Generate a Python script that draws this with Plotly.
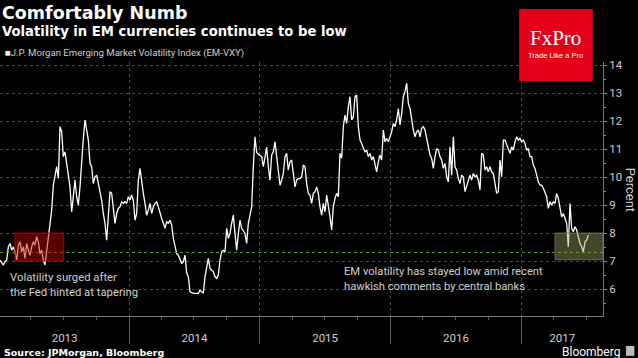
import pandas as pd
import plotly.graph_objects as go

# ---------------- data ----------------
title = "Comfortably Numb"
subtitle = "Volatility in EM currencies continues to be low"
series_name = "J.P. Morgan Emerging Market Volatility Index (EM-VXY)"
source_text = "Source: JPMorgan, Bloomberg"
y_title = "Percent"

start_date = "2013-01-05"
end_date = "2017-07-07"
axis_start = "2013-01-05"
axis_end = "2017-08-17"

# EM-VXY readings, roughly every 4-5 days, in four consecutive stretches
em_vxy_part1 = [
    7.04, 6.95, 6.86, 6.98, 7.04, 7.51, 7.63, 7.39, 7.51, 7.33,
    7.04, 7.57, 7.69, 7.33, 7.51, 7.10, 7.63, 7.39, 7.21, 7.51,
    7.69, 7.57, 7.87, 7.69, 7.27, 7.39, 7.04, 6.86, 7.39, 7.87,
    8.35, 8.82, 9.71, 10.01, 10.37, 9.95, 11.80, 11.62, 10.73, 10.90,
    10.49, 10.13, 9.65, 8.76, 9.48, 9.89, 9.30, 9.00, 9.65, 10.73,
    11.38, 12.04, 11.74, 11.32, 10.49, 10.37, 9.77, 10.01, 10.07, 9.77,
    9.42, 9.18, 8.70, 8.35, 7.75, 8.58, 9.48, 9.42, 8.82, 8.35,
    8.70, 8.88, 8.94, 9.12, 9.06, 9.12, 9.06, 9.30, 9.18, 9.36,
    9.18, 8.46, 8.70, 9.89, 10.31, 9.77, 9.42, 9.06, 8.64, 8.82,
]
em_vxy_part2 = [
    9.06, 8.70, 8.94, 9.06, 9.12, 8.94, 8.70, 8.52, 8.35, 8.17,
    8.40, 8.35, 8.46, 8.29, 7.81, 7.51, 7.27, 7.21, 7.04, 6.92,
    6.98, 7.21, 6.58, 6.44, 5.90, 5.87, 5.85, 5.85, 5.85, 5.85,
    5.96, 5.90, 5.85, 6.44, 6.80, 7.10, 6.74, 6.68, 6.62, 6.44,
    6.38, 6.50, 7.04, 7.33, 7.39, 7.33, 8.17, 7.81, 7.99, 8.35,
    8.64, 7.99, 7.39, 7.99, 8.46, 8.17, 8.05, 7.99, 7.63, 8.35,
    8.64, 8.94, 10.37, 11.44, 10.87, 10.82, 10.79, 10.73, 10.37, 10.73,
    11.06, 10.37, 9.89, 10.79, 10.90, 11.26, 10.79, 10.37, 9.71, 9.89,
    10.13, 10.73, 10.85, 10.25, 10.55, 10.61, 10.19, 9.65, 9.89, 9.95,
]
em_vxy_part3 = [
    9.95, 10.01, 10.43, 10.37, 9.77, 9.42, 9.36, 9.06, 9.42, 9.48,
    9.65, 9.42, 8.94, 8.64, 9.06, 8.76, 9.36, 9.00, 8.58, 8.11,
    8.94, 9.24, 9.42, 9.30, 10.85, 10.67, 11.80, 12.21, 11.92, 12.51,
    12.87, 12.04, 12.15, 12.87, 12.93, 11.80, 11.32, 11.20, 11.08, 10.90,
    10.96, 10.73, 10.85, 10.61, 10.73, 10.49, 10.19, 10.55, 10.79, 10.61,
    11.68, 11.26, 11.38, 11.26, 11.44, 11.62, 11.92, 11.80, 12.04, 12.45,
    11.86, 12.27, 12.87, 13.05, 13.35, 12.63, 12.45, 12.04, 11.68, 11.44,
    11.62, 11.68, 11.44, 11.74, 11.80, 11.68, 11.38, 11.08, 10.79, 10.67,
    10.31, 10.73, 11.02, 10.96, 10.73, 10.61, 10.31, 10.49, 10.01, 9.83,
]
em_vxy_part4 = [
    11.08, 10.07, 11.44, 10.37, 10.25, 9.95, 9.77, 10.07, 10.01, 9.48,
    9.65, 9.89, 10.07, 9.89, 10.13, 10.01, 10.07, 9.89, 9.54, 10.85,
    10.79, 10.25, 10.37, 10.19, 10.37, 10.19, 10.13, 9.77, 9.42, 9.48,
    10.61, 10.01, 11.32, 11.32, 11.14, 11.02, 10.85, 11.08, 10.96, 11.26,
    11.44, 11.32, 11.38, 11.26, 11.32, 11.20, 10.96, 11.02, 10.73, 10.73,
    10.43, 10.31, 10.07, 9.83, 9.71, 9.71, 9.60, 9.48, 9.30, 8.88,
    9.12, 9.00, 9.12, 9.06, 9.42, 9.24, 8.82, 8.58, 8.70, 8.52,
    8.35, 7.51, 9.06, 8.17, 8.05, 8.23, 8.11, 7.87, 7.63, 7.51,
    7.33, 7.69, 7.75, 7.93,
]

year_labels = ["2013", "2014", "2015", "2016", "2017"]
y_ticks = [6, 7, 8, 9, 10, 11, 12, 13, 14]
y_range = [5.04, 14.11]

reference_level = 7.31  # green dotted line

taper_box = {"x0": "2013-02-16", "x1": "2013-07-02", "y0": 7.0, "y1": 8.0}
recent_box = {"x0": "2017-04-05", "x1": axis_end, "y0": 7.05, "y1": 8.0}

note_taper = "Volatility surged after<br>the Fed hinted at tapering"
note_taper_pos = ("2013-01-28", 6.72)
note_recent = "EM volatility has stayed low amid recent<br>hawkish comments by central banks"
note_recent_pos = ("2015-08-20", 6.95)

# ---------------- build ----------------
values = em_vxy_part1 + em_vxy_part2 + em_vxy_part3 + em_vxy_part4
dates = pd.date_range(start_date, end_date, periods=len(values))

a0, a1 = pd.Timestamp(axis_start), pd.Timestamp(axis_end)
year_starts = [pd.Timestamp(f"{y}-01-01") for y in year_labels]
boundary_ticks = [d for d in year_starts if a0 < d < a1]
label_pos = []
for y in year_labels:
    s = max(pd.Timestamp(f"{y}-01-01"), a0)
    e = min(pd.Timestamp(f"{int(y) + 1}-01-01"), a1)
    label_pos.append(s + (e - s) / 2)

TXT = "#cfcfcf"
BODY_FONT = "Roboto"
HEAD_FONT = "DejaVu Sans"

fig = go.Figure()
fig.add_trace(go.Scatter(
    x=dates, y=values, mode="lines", name=series_name,
    line=dict(color="white", width=1.3), showlegend=False,
))
# invisible trace to activate overlaying label axis
fig.add_trace(go.Scatter(x=[a0], y=[None], xaxis="x2", yaxis="y",
                         showlegend=False, hoverinfo="skip"))

fig.update_layout(
    width=638, height=358,
    margin=dict(l=0, r=35, t=62, b=42),
    paper_bgcolor="black", plot_bgcolor="black",
    showlegend=False,
    xaxis=dict(
        type="date", range=[a0, a1],
        tickvals=boundary_ticks, showticklabels=False,
        ticks="outside", ticklen=27, tickcolor="#5a5a5a", tickwidth=1,
        showgrid=True, gridcolor="#4a4a4a", griddash="dot", gridwidth=1,
        showline=True, linecolor="#7a7a7a", linewidth=1,
        zeroline=False,
        minor=dict(ticks="outside", ticklen=3, tickcolor="#5a5a5a",
                   dtick="M3", tick0="2013-01-01", showgrid=False),
    ),
    xaxis2=dict(
        type="date", range=[a0, a1], overlaying="x", anchor="y", side="bottom",
        tickvals=label_pos, ticktext=year_labels,
        ticks="outside", ticklen=11, tickcolor="rgba(0,0,0,0)",
        showgrid=False, showline=False, zeroline=False,
        tickfont=dict(family=BODY_FONT, size=11.5, color=TXT),
    ),
    yaxis=dict(
        side="right", range=y_range, tickvals=y_ticks,
        ticks="outside", ticklen=3, tickcolor="#8a8a8a",
        showline=True, linecolor="#7a7a7a", linewidth=1,
        showgrid=True, gridcolor="#4a4a4a", griddash="dot",
        zeroline=False,
        tickfont=dict(family=BODY_FONT, size=11.5, color=TXT),
        minor=dict(ticks="outside", ticklen=2, tickcolor="#8a8a8a",
                   dtick=0.5, showgrid=False),
    ),
)

shapes = [
    dict(type="line", xref="paper", x0=0, x1=1, yref="y",
         y0=reference_level, y1=reference_level,
         line=dict(color="#5aa300", width=1, dash="dot"), layer="above"),
    dict(type="rect", xref="x", yref="y", **taper_box,
         fillcolor="rgba(200,0,0,0.45)", line=dict(color="#b00000", width=1),
         layer="above"),
    dict(type="rect", xref="x", yref="y", **recent_box,
         fillcolor="rgba(165,165,110,0.42)", line=dict(color="#6e6e50", width=1),
         layer="above"),
    # FxPro badge
    dict(type="rect", xref="paper", yref="paper", x0=0.861, x1=0.983,
         y0=0.925, y1=1.209, fillcolor="#e4001b", line=dict(width=0),
         layer="above"),
    # Bloomberg glyph
    dict(type="rect", xref="paper", yref="paper", x0=1.038, x1=1.052,
         y0=-0.157, y1=-0.118, fillcolor="#bdbdbd", line=dict(width=0)),
]
fig.update_layout(shapes=shapes)

ann = [
    dict(text=f"<b>{title}</b>", x=0, y=1.193, xref="paper", yref="paper",
         xanchor="left", yanchor="middle", showarrow=False,
         font=dict(family=HEAD_FONT, size=17.5, color="white")),
    dict(text=f"<b>{subtitle}</b>", x=0, y=1.122, xref="paper", yref="paper",
         xanchor="left", yanchor="middle", showarrow=False,
         font=dict(family=HEAD_FONT, size=13.2, color="white")),
    dict(text=f"<span style='color:white'>■</span>{series_name}", x=0.005, y=1.035,
         xref="paper", yref="paper", xanchor="left", yanchor="middle",
         showarrow=False, font=dict(family=BODY_FONT, size=9.6, color=TXT)),
    dict(text=note_taper, x=note_taper_pos[0], y=note_taper_pos[1], xref="x", yref="y",
         xanchor="left", yanchor="top", align="left", showarrow=False,
         font=dict(family=BODY_FONT, size=11.3, color=TXT)),
    dict(text=note_recent, x=note_recent_pos[0], y=note_recent_pos[1], xref="x", yref="y",
         xanchor="left", yanchor="top", align="left", showarrow=False,
         font=dict(family=BODY_FONT, size=11.2, color=TXT)),
    dict(text=y_title, x=1.047, y=0.496, xref="paper", yref="paper",
         textangle=90, xanchor="center", yanchor="middle", showarrow=False,
         font=dict(family=BODY_FONT, size=13, color=TXT)),
    dict(text=f"<b>{source_text}</b>", x=0.003, y=-0.142, xref="paper", yref="paper",
         xanchor="left", yanchor="middle", showarrow=False,
         font=dict(family=HEAD_FONT, size=9.5, color="white")),
    dict(text="Bloomberg", x=1.032, y=-0.141, xref="paper", yref="paper",
         xanchor="right", yanchor="middle", showarrow=False,
         font=dict(family=BODY_FONT, size=12, color="white")),
    dict(text="FxPro", x=0.922, y=1.093, xref="paper", yref="paper",
         xanchor="center", yanchor="middle", showarrow=False,
         font=dict(family="Liberation Serif", size=21, color="white")),
    dict(text="Trade Like a Pro", x=0.922, y=1.026, xref="paper", yref="paper",
         xanchor="center", yanchor="middle", showarrow=False,
         font=dict(family="Liberation Sans", size=7.5, color="white")),
]
fig.update_layout(annotations=ann)

fig.write_html("out.html",
               config={"displayModeBar": False},
               post_script="document.body.style.margin='0';document.body.style.overflow='hidden';")
